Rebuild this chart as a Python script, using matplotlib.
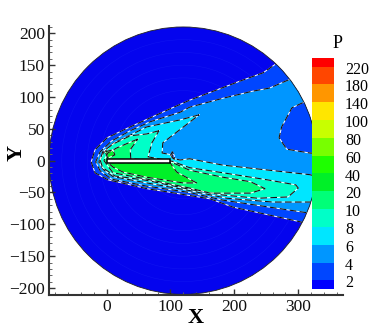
import matplotlib
matplotlib.use('Agg')
import matplotlib.pyplot as plt
from matplotlib.patches import Circle, Rectangle

plt.rcParams['font.family'] = ['Liberation Serif', 'DejaVu Serif']

# colour bar
levels = ['2', '4', '6', '8', '10', '20', '40', '60', '80', '100', '140', '180', '220']
band_colors = ['#0000ff', '#0046ff', '#0096ff', '#00e6ff', '#00ffc8', '#00ff78', '#00f028',
               '#1eff00', '#78ff00', '#c8ff00', '#ffe600', '#ff9600', '#ff4600', '#ff0000']

# contour outlines (outside the circle they get clipped)
p4_x = [287, 265, 245, 209, 130, 103, 37, 1, -18, -24, -18, 2, 63, 95, 162, 198, 303, 334, 400, 400]
p4_y = [163, 152, 138, 125, 95, 83, 53, 36, 17, -2, -19, -30, -44, -49, -60, -73, -96, -107, -107, 163]

p6_x = [300, 285, 255, 228, 182, 130, 115, 68, 37, 8, -10, -17, -10, 8, 63, 130, 182, 235, 315, 340, 400, 400]
p6_y = [130, 127, 114, 109, 98, 84, 76, 61, 47, 31, 14, -2, -16, -29, -40, -50, -62, -70, -82, -87, -87, 130]

pocket_x = [320, 307, 290, 274, 270, 282, 318, 345, 345]
pocket_y = [100, 91, 83, 53, 36, 18, 12, 10, 100]

p8_x = [145, 115, 63, 37, 10, -5, -12, -5, 10, 63, 130, 188, 260, 318, 345, 345, 318, 182, 130, 115, 103, 103, 87, 88, 141]
p8_y = [72, 64, 53, 40, 27, 12, -2, -14, -25, -35, -47, -59, -65, -65, -65, -30, -22, -7, 3, 1, 4, 9, 12, 28, 69]

p10_x = [82, 63, 37, 10, -6, -10, -6, 13, 63, 130, 182, 237, 284, 300, 296, 251, 182, 130, 103, 65, 71]
p10_y = [47, 42, 39, 26, 14, 1, -11, -24, -31, -45, -54, -59, -57, -43, -38, -30, -19, -11, -1, 6, 28]

p20_x = [49, 37, 16, 2, -4, 10, 63, 130, 162, 225, 248, 225, 182, 130, 103, 38, 37]
p20_y = [34, 29, 20, 12, 0, -19, -29, -43, -51, -51, -44, -33, -26, -15, -3, 3, 17]

p40_x = [2, 99, 110, 141, 120, 63, 26, 10]
p40_y = [-3, -3, -18, -35, -35, -26, -18, -10]

nose_x = [-2, 10, 13, 2]
nose_y = [14, 17, 9, 4]

spot_x = [100, 103, 106, 106]
spot_y = [8, 14, 8, 2]

plate_x = [0, 100]
plate_y = [-3, 3]

# faint cell lines of the mesh
mesh_radii = [60, 85, 110, 130, 150, 170, 190]

fig = plt.figure(figsize=(3.74, 3.32), dpi=100)
ax = fig.add_axes([49 / 374, 37 / 332, 294 / 374, 269 / 332])
ax.set_xlim(-90, 370)
ax.set_ylim(-211, 211.5)
ax.patch.set_alpha(0)

disc = Circle((120, 0), 210, fc='#0404ee', ec='none', zorder=1)
ax.add_patch(disc)
for r in mesh_radii:
    ax.add_patch(Circle((120, 0), r, fc='none', ec='#3a50ff', lw=0.4, alpha=0.2, zorder=1.5))

regions = [(p4_x, p4_y, band_colors[1]), (p6_x, p6_y, band_colors[2]),
           (pocket_x, pocket_y, band_colors[1]), (p8_x, p8_y, band_colors[3]),
           (p10_x, p10_y, band_colors[4]), (p20_x, p20_y, band_colors[5]),
           (p40_x, p40_y, band_colors[6]), (nose_x, nose_y, band_colors[6]),
           (spot_x, spot_y, band_colors[1])]
for xs, ys, col in regions:
    poly = ax.fill(xs, ys, color=col, lw=0, zorder=2)[0]
    poly.set_clip_path(disc)
    xc = xs + xs[:1]
    yc = ys + ys[:1]
    # contour line: white under black dashes
    l1, = ax.plot(xc, yc, color='white', lw=0.7, zorder=3)
    l2, = ax.plot(xc, yc, color='#111111', lw=0.8, dashes=(6, 3), zorder=3)
    l1.set_clip_path(disc)
    l2.set_clip_path(disc)

edge = Circle((120, 0), 210, fc='none', ec='#222222', lw=0.6, zorder=4)
ax.add_patch(edge)
ax.add_patch(Rectangle((plate_x[0], plate_y[0]), plate_x[1] - plate_x[0], plate_y[1] - plate_y[0],
                       fc='white', ec='black', lw=1.1, zorder=5))

for s in ['top', 'right']:
    ax.spines[s].set_visible(False)
for s in ['left', 'bottom']:
    ax.spines[s].set_linewidth(1.5)
    ax.spines[s].set_color('#333333')
    ax.spines[s].set_zorder(6)

ax.set_xticks([0, 100, 200, 300])
ax.set_xticks(range(-80, 371, 20), minor=True)
ax.set_yticks(range(-200, 201, 50))
ax.set_yticks(range(-210, 211, 10), minor=True)
ax.tick_params(which='major', direction='in', length=4.5, width=1.0, color='#333333', labelsize=12.5, pad=3)
ax.tick_params(which='minor', direction='in', length=2.2, width=0.7, color='#666666')
for t in ax.get_xticklabels() + ax.get_yticklabels():
    t.set_color('#111111')

fig.text(196 / 374, 1 - 318 / 332, 'X', fontsize=16, fontweight='bold', ha='center', va='center')
fig.text(17 / 374, 1 - 153 / 332, 'Y', fontsize=16, fontweight='bold', ha='center', va='center', rotation=90)

# legend bar, half bands at both ends
cax = fig.add_axes([312 / 374, 1 - 289.3 / 332, 22 / 374, 231.6 / 332])
heights = [0.5] + [1] * 12 + [0.5]
bottoms = [0]
for h in heights[:-1]:
    bottoms.append(bottoms[-1] + h)
cax.bar([0] * 14, heights, bottom=bottoms, width=1, color=band_colors)
cax.set_xlim(-0.5, 0.5)
cax.set_ylim(0, 13)
cax.axis('off')
for i, lab in enumerate(levels):
    cax.annotate(lab, (1, i + 0.5), xycoords=('axes fraction', 'data'), xytext=(8, -2.2),
                 textcoords='offset points', va='center', ha='left', fontsize=11.5, annotation_clip=False)
fig.text(338 / 374, 1 - 44 / 332, 'P', fontsize=13, ha='center', va='center')

fig.savefig('out.png', dpi=100)
